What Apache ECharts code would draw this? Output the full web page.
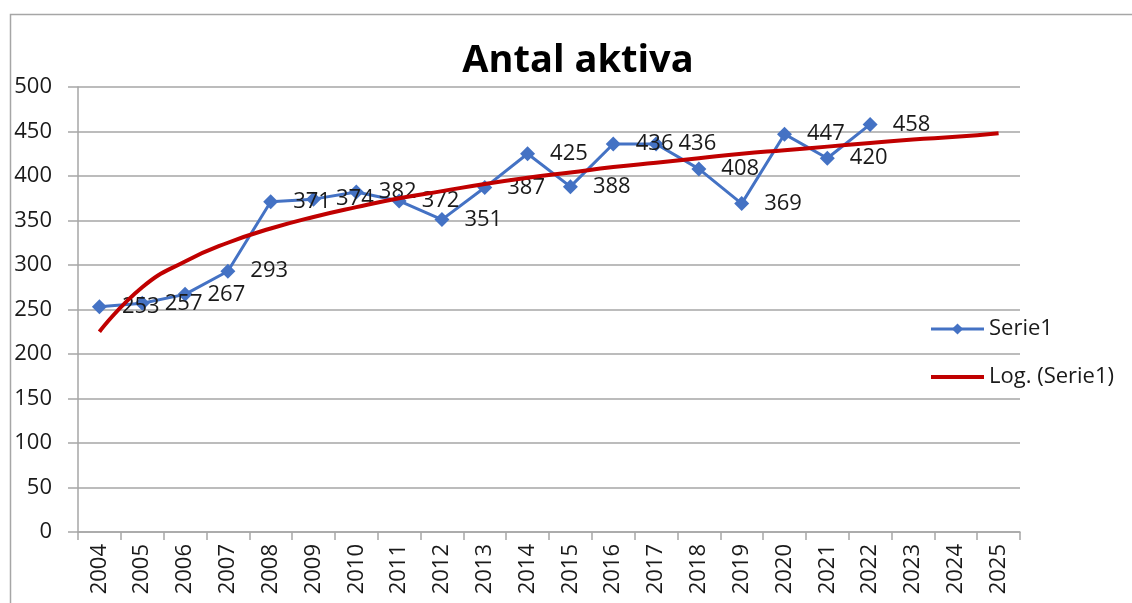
<!DOCTYPE html>
<html>
<head>
<meta charset="utf-8">
<script src="https://cdn.jsdelivr.net/npm/echarts@6/dist/echarts.min.js"></script>
<style>
html,body{margin:0;padding:0;background:#fff;}
#chart{width:1132px;height:603px;}
</style>
</head>
<body>
<div id="chart"></div>
<script>
const categories = ['2004','2005','2006','2007','2008','2009','2010','2011','2012','2013','2014','2015','2016','2017','2018','2019','2020','2021','2022','2023','2024','2025'];
const serie1 = [253,257,267,293,371,374,382,372,351,387,425,388,436,436,408,369,447,420,458];
const logTrend = [225,275,304,325,341,354,365,375,383,391,398,404,410,415,420,425,429,433,437,441,444,448];
const yTicks = [0,50,100,150,200,250,300,350,400,450,500];

const FONT = 'Open Sans';
const chart = echarts.init(document.getElementById('chart'));
chart.setOption({
  animation: false,
  backgroundColor: '#ffffff',
  textStyle: {fontFamily: FONT},
  graphic: [{
    type: 'rect', left: 8, top: 12, silent: true,
    shape: {width: 1300, height: 800},
    style: {fill: 'none', stroke: '#a6a6a6', lineWidth: 1.5}
  }],
  title: {
    text: 'Antal aktiva', left: 573, top: 37, textAlign: 'center',
    textStyle: {fontFamily: FONT, fontWeight: 'bold', fontSize: 38, color: '#000'}
  },
  legend: {
    orient: 'vertical', left: 924, top: 313,
    itemWidth: 53, itemHeight: 14, itemGap: 26,
    textStyle: {fontFamily: FONT, fontSize: 22, color: '#1a1a1a'},
    data: [
      {name: 'Serie1', lineStyle: {width: 3, color: '#4472C4'}},
      {name: 'Log. (Serie1)', lineStyle: {width: 4, color: '#C00000'}, itemStyle: {opacity: 0}}
    ]
  },
  grid: {left: 78, right: 112, top: 87, bottom: 71, containLabel: false},
  xAxis: {
    type: 'category', data: categories, boundaryGap: true,
    axisLine: {lineStyle: {color: '#a6a6a6', width: 1.5}},
    axisTick: {show: true, length: 8, inside: false, lineStyle: {color: '#a6a6a6', width: 1.5}},
    axisLabel: {rotate: 90, margin: 12, interval: 0, fontFamily: FONT, fontSize: 22, color: '#1a1a1a'},
    splitLine: {show: false}
  },
  yAxis: {
    type: 'value', min: yTicks[0], max: yTicks[yTicks.length - 1], interval: 50,
    axisLine: {show: true, lineStyle: {color: '#a6a6a6', width: 1.5}},
    axisTick: {show: true, length: 10, lineStyle: {color: '#a6a6a6', width: 1.5}},
    axisLabel: {margin: 26, fontFamily: FONT, fontSize: 22, color: '#1a1a1a'},
    splitLine: {show: true, lineStyle: {color: '#a6a6a6', width: 1.5}}
  },
  series: [{
    name: 'Serie1', type: 'line', data: serie1,
    symbol: 'diamond', symbolSize: 15, showAllSymbol: true,
    lineStyle: {color: '#4472C4', width: 3},
    itemStyle: {color: '#4472C4'},
    label: {show: true, position: 'right', distance: 15, fontFamily: FONT, fontSize: 22, color: '#1a1a1a'},
    z: 2
  }, {
    name: 'Log. (Serie1)', type: 'line', data: logTrend,
    smooth: 0.5, symbol: 'none', showSymbol: false,
    lineStyle: {color: '#C00000', width: 4},
    itemStyle: {color: '#C00000'},
    z: 3
  }]
});
</script>
</body>
</html>
